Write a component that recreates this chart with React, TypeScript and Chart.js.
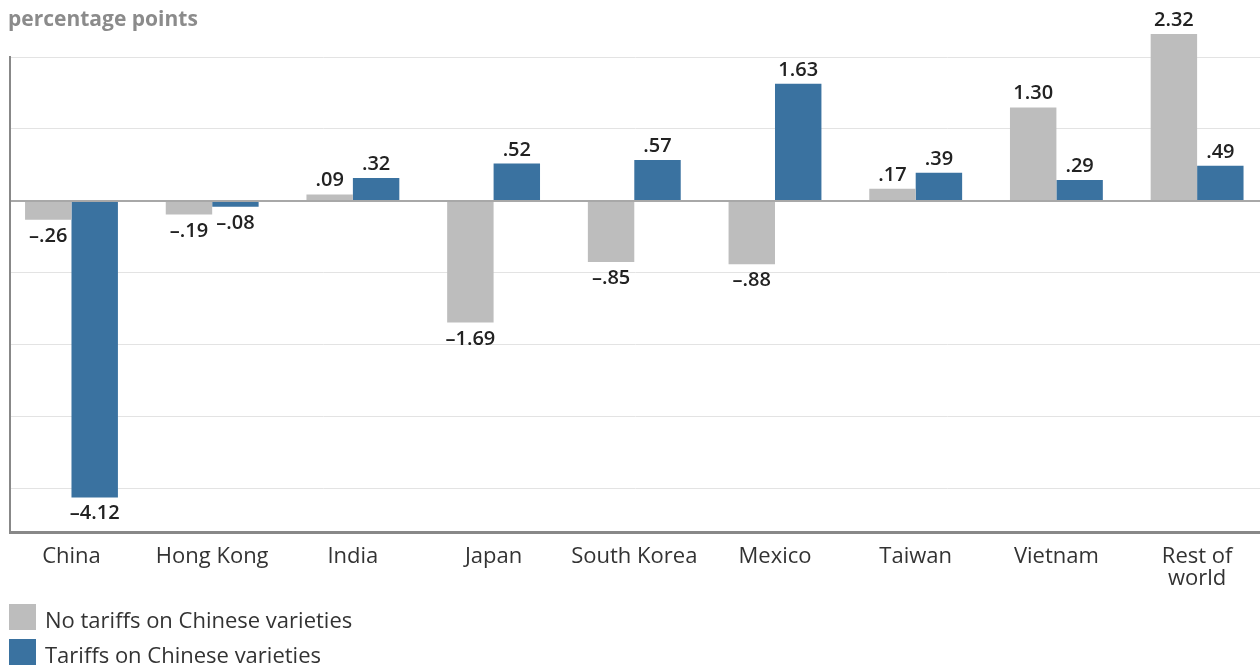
import React, { useEffect, useRef } from 'react';
import { Chart, registerables } from 'chart.js';

Chart.register(...registerables);

const categories = ['China', 'Hong Kong', 'India', 'Japan', 'South Korea', 'Mexico', 'Taiwan', 'Vietnam', 'Rest of world'];
const tickLabels: string[][] = [['China'], ['Hong Kong'], ['India'], ['Japan'], ['South Korea'], ['Mexico'], ['Taiwan'], ['Vietnam'], ['Rest of', 'world']];
const noTariffs = [-0.26, -0.19, 0.09, -1.69, -0.85, -0.88, 0.17, 1.3, 2.32];
const tariffs = [-4.12, -0.08, 0.32, 0.52, 0.57, 1.63, 0.39, 0.29, 0.49];
const seriesLabels = ['No tariffs on Chinese varieties', 'Tariffs on Chinese varieties'];
const seriesColors = ['#bdbdbd', '#3a72a0'];
const seriesValues = [noTariffs, tariffs];
const yMin = -4.6;
const yMax = 2;
const xMin = -0.437;
const xMax = 8.447;

const FONT = '"Open Sans", "Noto Sans", sans-serif';

const fmt = (v: number) => (v < 0 ? '–' : '') + Math.abs(v).toFixed(2).replace(/^0/, '');

const valueLabels = {
  id: 'valueLabels',
  afterDatasetsDraw(chart: any) {
    const ctx = chart.ctx;
    ctx.save();
    ctx.font = `600 20px ${FONT}`;
    ctx.fillStyle = '#222';
    ctx.textAlign = 'center';
    ctx.textBaseline = 'alphabetic';
    chart.data.datasets.forEach((ds: any, di: number) => {
      const meta = chart.getDatasetMeta(di);
      meta.data.forEach((el: any, i: number) => {
        const v = ds.data[i].y;
        ctx.fillText(fmt(v), el.x, v >= 0 ? el.y - 8 : el.y + 22);
      });
    });
    ctx.restore();
  },
};

export default function App() {
  const ref = useRef<HTMLCanvasElement>(null);
  useEffect(() => {
    if (!ref.current) return;
    const chart = new Chart(ref.current, {
      type: 'bar',
      data: {
        datasets: seriesValues.map((vals, si) => ({
          label: seriesLabels[si],
          data: vals.map((v, i) => ({ x: i, y: v })),
          backgroundColor: seriesColors[si],
          borderWidth: 0,
          categoryPercentage: 0.66,
          barPercentage: 1,
          clip: false as any,
        })),
      },
      options: {
        animation: false,
        responsive: false,
        maintainAspectRatio: false,
        layout: { padding: { left: 10, right: 0, top: 57, bottom: 75 } },
        plugins: { legend: { display: false }, tooltip: { enabled: false }, title: { display: false } },
        scales: {
          x: {
            type: 'linear',
            min: xMin,
            max: xMax,
            offset: false,
            grid: { display: false, drawTicks: false },
            border: { display: true, color: '#888', width: 3 },
            afterFit: (s: any) => { s.height = 60; },
            ticks: {
              stepSize: 1,
              includeBounds: false,
              autoSkip: false,
              maxRotation: 0,
              minRotation: 0,
              padding: 14,
              color: '#333',
              font: { family: FONT, size: 22, lineHeight: 1.0 },
              callback: (v: any) => (Number.isInteger(v) && tickLabels[v] ? tickLabels[v] : ''),
            },
          },
          y: {
            min: yMin,
            max: yMax,
            grid: {
              drawTicks: false,
              color: (c: any) => (c.tick && c.tick.value === 0 ? '#a8a8a8' : '#e3e3e3'),
              lineWidth: (c: any) => (c.tick && c.tick.value === 0 ? 2 : 1),
            },
            border: { display: true, color: '#888', width: 2 },
            ticks: { display: false, stepSize: 1, includeBounds: false },
          },
        },
      },
      plugins: [valueLabels],
    });
    return () => chart.destroy();
  }, []);

  return (
    <div style={{ position: 'fixed', left: 0, top: 0, width: 1260, height: 667, background: '#fff', fontFamily: FONT }}>
      <canvas ref={ref} width={1260} height={667} style={{ position: 'absolute', left: 0, top: 0 }} />
      <div style={{ position: 'absolute', left: 8, top: 4, fontSize: 21, fontWeight: 700, color: '#8b8b8b', lineHeight: '28px' }}>
        percentage points
      </div>
      {seriesLabels.map((lab, i) => (
        <div key={lab} style={{ position: 'absolute', left: 9, top: 603 + i * 35, height: 27, display: 'flex', alignItems: 'center' }}>
          <div style={{ width: 27, height: 26, background: seriesColors[i] }} />
          <div style={{ marginLeft: 9, fontSize: 22, color: '#333', whiteSpace: 'nowrap', position: 'relative', top: 3, lineHeight: '27px' }}>{lab}</div>
        </div>
      ))}
    </div>
  );
}
